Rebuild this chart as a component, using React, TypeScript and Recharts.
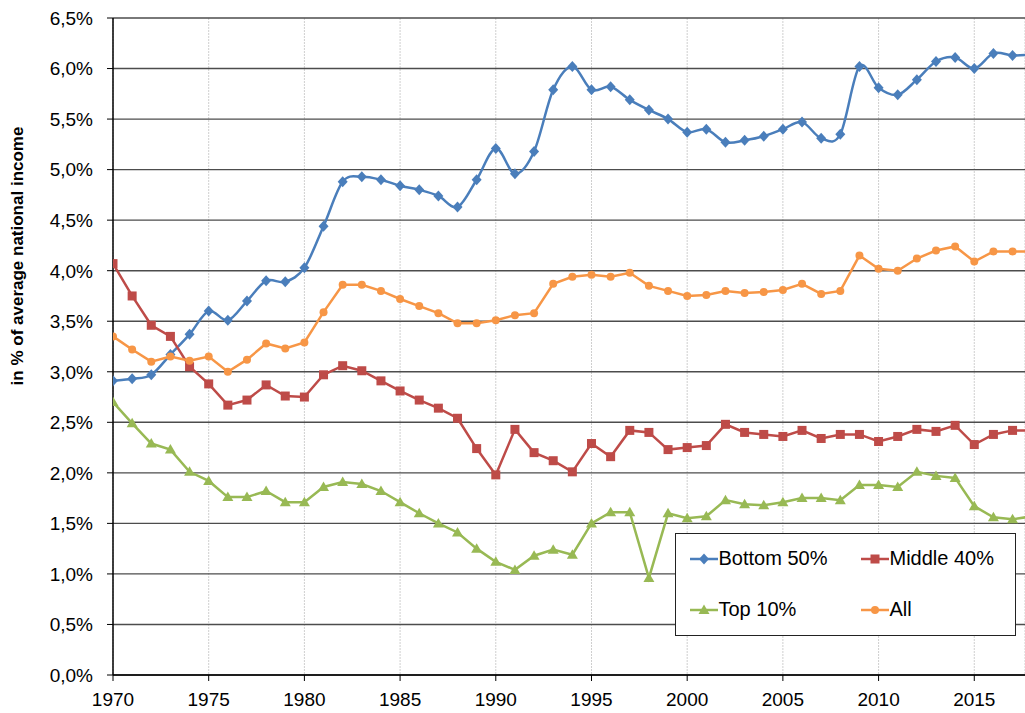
import React from 'react';
import { LineChart, Line, XAxis, YAxis, CartesianGrid, Legend, Label } from 'recharts';

const years = [
  1970, 1971, 1972, 1973, 1974, 1975, 1976, 1977, 1978, 1979,
  1980, 1981, 1982, 1983, 1984, 1985, 1986, 1987, 1988, 1989,
  1990, 1991, 1992, 1993, 1994, 1995, 1996, 1997, 1998, 1999,
  2000, 2001, 2002, 2003, 2004, 2005, 2006, 2007, 2008, 2009,
  2010, 2011, 2012, 2013, 2014, 2015, 2016, 2017, 2018,
];

const bottom50 = [
  2.91, 2.93, 2.97, 3.17, 3.37, 3.60, 3.51, 3.70, 3.90, 3.89,
  4.03, 4.44, 4.88, 4.93, 4.90, 4.84, 4.80, 4.74, 4.63, 4.90,
  5.21, 4.96, 5.18, 5.79, 6.02, 5.79, 5.82, 5.69, 5.59, 5.50,
  5.37, 5.40, 5.27, 5.29, 5.33, 5.40, 5.47, 5.31, 5.35, 6.02,
  5.81, 5.74, 5.89, 6.07, 6.11, 6.00, 6.15, 6.13, 6.14,
];

const middle40 = [
  4.07, 3.75, 3.46, 3.35, 3.05, 2.88, 2.67, 2.72, 2.87, 2.76,
  2.75, 2.97, 3.06, 3.01, 2.91, 2.81, 2.72, 2.64, 2.54, 2.24,
  1.98, 2.43, 2.20, 2.12, 2.01, 2.29, 2.16, 2.42, 2.40, 2.23,
  2.25, 2.27, 2.48, 2.40, 2.38, 2.36, 2.42, 2.34, 2.38, 2.38,
  2.31, 2.36, 2.43, 2.41, 2.47, 2.28, 2.38, 2.42, 2.42,
];

const top10 = [
  2.70, 2.49, 2.29, 2.23, 2.01, 1.92, 1.76, 1.76, 1.82, 1.71,
  1.71, 1.86, 1.91, 1.89, 1.82, 1.71, 1.60, 1.50, 1.41, 1.25,
  1.12, 1.04, 1.18, 1.24, 1.19, 1.50, 1.61, 1.61, 0.96, 1.60,
  1.55, 1.57, 1.73, 1.69, 1.68, 1.71, 1.75, 1.75, 1.73, 1.88,
  1.88, 1.86, 2.01, 1.97, 1.95, 1.67, 1.56, 1.54, 1.57,
];

const all = [
  3.35, 3.22, 3.10, 3.15, 3.11, 3.15, 3.00, 3.12, 3.28, 3.23,
  3.29, 3.59, 3.86, 3.86, 3.80, 3.72, 3.65, 3.58, 3.48, 3.48,
  3.51, 3.56, 3.58, 3.87, 3.94, 3.96, 3.94, 3.98, 3.85, 3.80,
  3.75, 3.76, 3.80, 3.78, 3.79, 3.81, 3.87, 3.77, 3.80, 4.15,
  4.02, 4.00, 4.12, 4.20, 4.24, 4.09, 4.19, 4.19, 4.19,
];

const xTicks = [1970, 1975, 1980, 1985, 1990, 1995, 2000, 2005, 2010, 2015];
const yTicks = [0, 0.5, 1, 1.5, 2, 2.5, 3, 3.5, 4, 4.5, 5, 5.5, 6, 6.5];

const data = years.map((year, i) => ({
  year,
  b50: bottom50[i],
  m40: middle40[i],
  t10: top10[i],
  all: all[i],
}));

const FONT = '"Liberation Sans", Arial, sans-serif';
const BLUE = '#4A7EBB';
const RED = '#BE4B48';
const GREEN = '#98B954';
const ORANGE = '#F79646';

// Catmull-Rom smoothing similar to Excel's smoothed lines
function catmullRom(context: any) {
  let pts: number[][] = [];
  return {
    areaStart() {},
    areaEnd() {},
    lineStart() {
      pts = [];
    },
    point(x: number, y: number) {
      pts.push([+x, +y]);
    },
    lineEnd() {
      const n = pts.length;
      if (n === 0) return;
      context.moveTo(pts[0][0], pts[0][1]);
      const t = 1 / 6;
      for (let i = 0; i < n - 1; i++) {
        const p0 = pts[i - 1] || pts[i];
        const p1 = pts[i];
        const p2 = pts[i + 1];
        const p3 = pts[i + 2] || p2;
        context.bezierCurveTo(
          p1[0] + (p2[0] - p0[0]) * t,
          p1[1] + (p2[1] - p0[1]) * t,
          p2[0] - (p3[0] - p1[0]) * t,
          p2[1] - (p3[1] - p1[1]) * t,
          p2[0],
          p2[1]
        );
      }
    },
  };
}

const Diamond = ({ cx, cy, color }: any) => (
  <path d={`M${cx},${cy - 5.5}L${cx + 5},${cy}L${cx},${cy + 5.5}L${cx - 5},${cy}Z`} fill={color} />
);
const Square = ({ cx, cy, color }: any) => (
  <rect x={cx - 4.5} y={cy - 4.5} width={9} height={9} fill={color} />
);
const Triangle = ({ cx, cy, color }: any) => (
  <path d={`M${cx},${cy - 5.5}L${cx + 5.5},${cy + 4}L${cx - 5.5},${cy + 4}Z`} fill={color} />
);
const Circle = ({ cx, cy, color }: any) => <circle cx={cx} cy={cy} r={4} fill={color} />;

const mkDot = (Shape: any, color: string) => (props: any) => {
  const { cx, cy, index } = props;
  if (cx == null || cy == null) return <g key={index} />;
  return <Shape key={index} cx={cx} cy={cy} color={color} />;
};

const legendItems = [
  { name: 'Bottom 50%', color: BLUE, Shape: Diamond, left: 15, top: 26 },
  { name: 'Middle 40%', color: RED, Shape: Square, left: 186, top: 26 },
  { name: 'Top 10%', color: GREEN, Shape: Triangle, left: 15, top: 77 },
  { name: 'All', color: ORANGE, Shape: Circle, left: 186, top: 77 },
];

const LegendBox = () => (
  <div
    style={{
      position: 'relative',
      width: 341,
      height: 103,
      border: '1.5px solid #222',
      background: '#fff',
      boxSizing: 'border-box',
      fontFamily: FONT,
      fontSize: 20,
      color: '#000',
    }}
  >
    {legendItems.map((it) => (
      <div
        key={it.name}
        style={{
          position: 'absolute',
          left: it.left - 1.5,
          top: it.top - 12 - 1.5,
          height: 24,
          display: 'flex',
          alignItems: 'center',
          whiteSpace: 'nowrap',
        }}
      >
        <svg width={28} height={14} style={{ display: 'block' }}>
          <line x1={0} y1={7} x2={28} y2={7} stroke={it.color} strokeWidth={2.5} />
          <it.Shape cx={14} cy={7} color={it.color} />
        </svg>
        <span style={{ marginLeft: 1 }}>{it.name}</span>
      </div>
    ))}
  </div>
);

const YTitle = () => (
  <text
    x={0}
    y={0}
    transform="translate(23,256) rotate(-90)"
    textAnchor="middle"
    fontFamily={FONT}
    fontSize={17}
    fontWeight="bold"
    fill="#000"
  >
    in % of average national income
  </text>
);

const XTick = (props: any) => {
  const { x, y, payload } = props;
  return (
    <text x={x} y={y} dy="0.71em" textAnchor="middle" fontFamily={FONT} fontSize={19} fill="#000">
      {payload.value}
    </text>
  );
};

const YTick = (props: any) => {
  const { x, y, payload } = props;
  return (
    <text x={x} y={y} dy="0.36em" textAnchor="end" fontFamily={FONT} fontSize={19} fill="#000">
      {Number(payload.value).toFixed(1).replace('.', ',') + '%'}
    </text>
  );
};

export default function App() {
  return (
    <div style={{ position: 'absolute', left: 0, top: 0, width: 1025, height: 713, background: '#fff' }}>
      <LineChart
        width={1025}
        height={713}
        data={data}
        margin={{ top: 18, right: 0, bottom: 0, left: 0 }}
      >
        <CartesianGrid horizontal={false} vertical={true} stroke="#cfcfcf" strokeDasharray="2 1" />
        <CartesianGrid horizontal={true} vertical={false} stroke="#4d4d4d" strokeWidth={1.4} />
        <XAxis
          dataKey="year"
          type="number"
          domain={[1970, 2017.65]}
          allowDataOverflow
          ticks={xTicks}
          interval={0}
          tickSize={6}
          tickMargin={12}
          tickLine={{ stroke: '#000' }}
          axisLine={{ stroke: '#000', strokeWidth: 1.5 }}
          tick={<XTick />}
          height={38}
        />
        <YAxis
          type="number"
          domain={[0, 6.5]}
          ticks={yTicks}
          interval={0}
          width={113}
          tickSize={6}
          tickMargin={14}
          tickLine={{ stroke: '#000' }}
          axisLine={{ stroke: '#000', strokeWidth: 1.5 }}
          tick={<YTick />}
        >
          <Label content={<YTitle />} />
        </YAxis>
        <Line
          dataKey="b50"
          name="Bottom 50%"
          type={catmullRom as any}
          stroke={BLUE}
          strokeWidth={2.5}
          dot={mkDot(Diamond, BLUE)}
          activeDot={false}
          isAnimationActive={false}
        />
        <Line
          dataKey="m40"
          name="Middle 40%"
          type="linear"
          stroke={RED}
          strokeWidth={2.5}
          dot={mkDot(Square, RED)}
          activeDot={false}
          isAnimationActive={false}
        />
        <Line
          dataKey="t10"
          name="Top 10%"
          type="linear"
          stroke={GREEN}
          strokeWidth={2.5}
          dot={mkDot(Triangle, GREEN)}
          activeDot={false}
          isAnimationActive={false}
        />
        <Line
          dataKey="all"
          name="All"
          type="linear"
          stroke={ORANGE}
          strokeWidth={2.5}
          dot={mkDot(Circle, ORANGE)}
          activeDot={false}
          isAnimationActive={false}
        />
        <Legend
          layout="vertical"
          align="center"
          verticalAlign="middle"
          content={() => <LegendBox />}
          wrapperStyle={{ position: 'absolute', left: 675, top: 533, width: 341, height: 103 }}
        />
      </LineChart>
    </div>
  );
}
